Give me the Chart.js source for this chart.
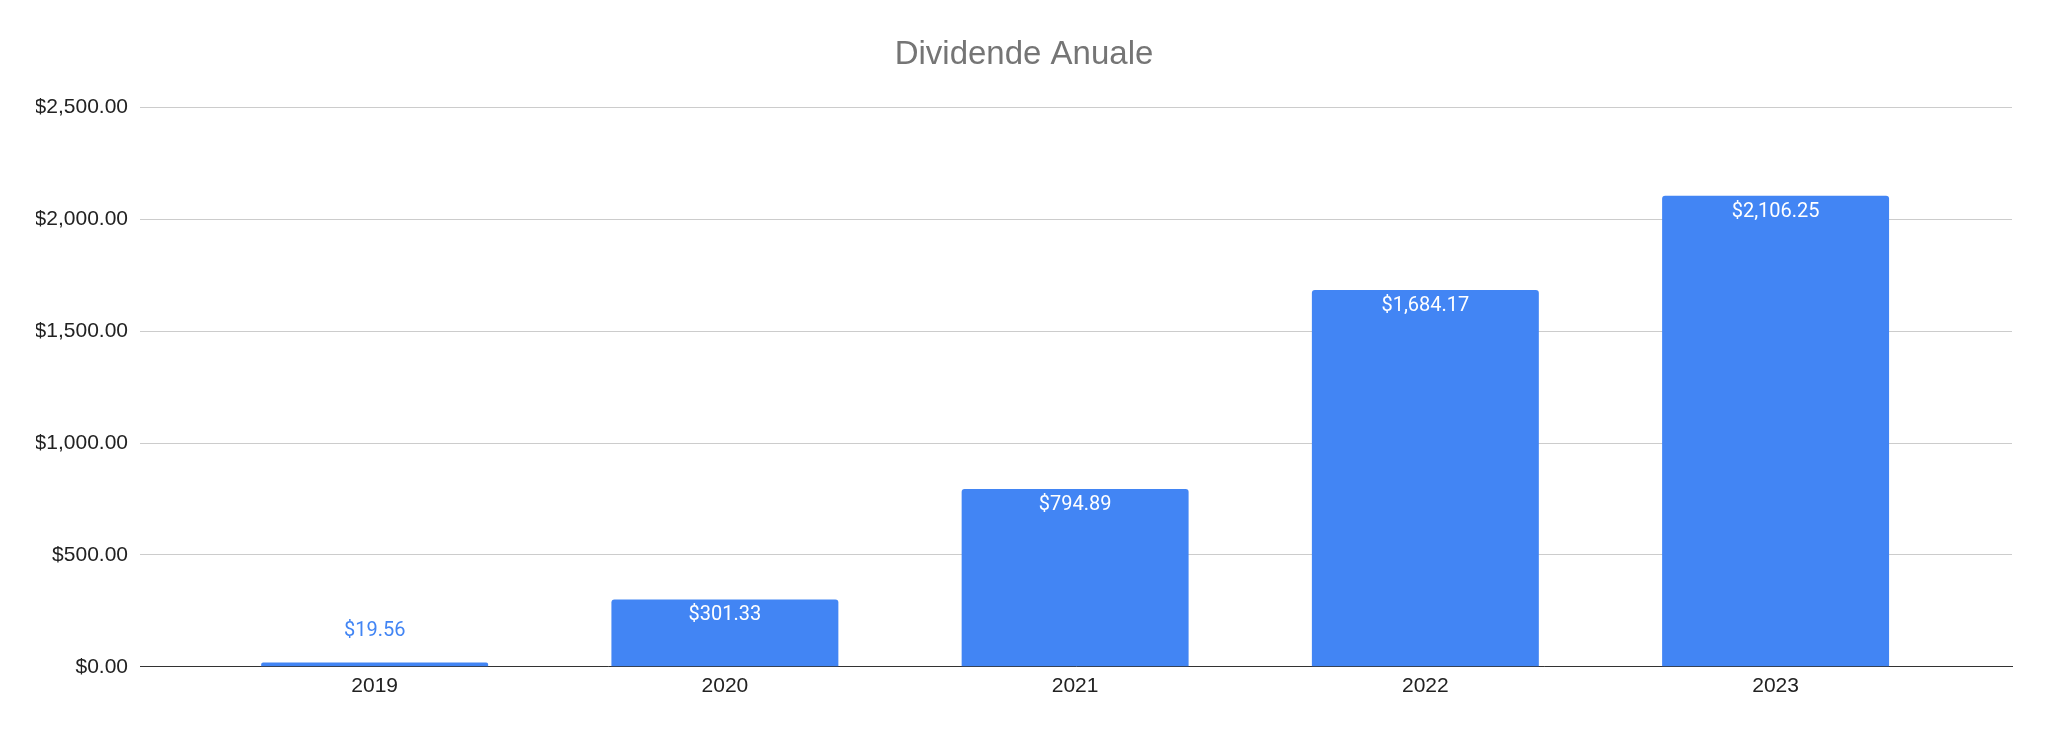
<!DOCTYPE html>
<html lang="ro">
<head>
  <meta charset="UTF-8" />
  <title>Dividende Anuale</title>
  <script src="https://cdn.jsdelivr.net/npm/chart.js"></script>
  <style>
    html, body { margin: 0; padding: 0; background: #fff; }
    #wrap { width: 2048px; height: 734px; }
  </style>
</head>
<body>
  <div id="wrap"><canvas id="barChart" width="2048" height="734"></canvas></div>
<script>
  // data
  const years = ["2019", "2020", "2021", "2022", "2023"];
  const dividends = [19.56, 301.33, 794.89, 1684.17, 2106.25];
  const yTicks = [0, 500, 1000, 1500, 2000, 2500];

  const money = v => "$" + v.toLocaleString("en-US", { minimumFractionDigits: 2, maximumFractionDigits: 2 });

  // value labels: white inside the bar top, blue above when the bar is too short
  const barLabels = {
    id: "barLabels",
    afterDatasetsDraw(chart) {
      const ctx = chart.ctx;
      const meta = chart.getDatasetMeta(0);
      ctx.save();
      ctx.font = "20px Roboto";
      ctx.textAlign = "center";
      ctx.textBaseline = "middle";
      meta.data.forEach((bar, i) => {
        const h = bar.base - bar.y;
        if (h > 40) {
          ctx.fillStyle = "#ffffff";
          ctx.fillText(money(dividends[i]), bar.x, bar.y + 16);
        } else {
          ctx.fillStyle = "#4285F4";
          ctx.fillText(money(dividends[i]), bar.x, bar.y - 31);
        }
      });
      ctx.restore();
    }
  };

  const ctx = document.getElementById("barChart").getContext("2d");
  new Chart(ctx, {
    type: "bar",
    data: {
      datasets: [{
        label: "Dividende",
        data: dividends.map((v, i) => ({ x: i, y: v })),
        backgroundColor: "#4285F4",
        borderRadius: 3,
        borderSkipped: "start",
        categoryPercentage: 1,
        barPercentage: 0.648,
      }],
    },
    options: {
      responsive: false,
      animation: false,
      devicePixelRatio: 1,
      layout: { padding: { left: 36, right: 36, top: 0, bottom: 28 } },
      plugins: {
        legend: { display: false },
        tooltip: { enabled: false },
        title: {
          display: true,
          text: "Dividende Anuale",
          color: "#757575",
          font: { family: "'Liberation Sans', Arial, sans-serif", size: 33, weight: "normal", lineHeight: 1.2 },
          padding: { top: 35, bottom: 33 },
        },
      },
      scales: {
        x: {
          type: "linear",
          offset: false,
          min: -0.67,
          max: 4.675,
          afterBuildTicks: scale => { scale.ticks = years.map((y, i) => ({ value: i })); },
          grid: { display: false, drawTicks: false, offset: false },
          border: { display: true, color: "#333333", width: 1 },
          ticks: {
            callback: value => years[value],
            color: "#222222",
            padding: 7,
            maxRotation: 0,
            font: { family: "'Liberation Sans', Arial, sans-serif", size: 21 },
          },
        },
        y: {
          min: 0,
          max: 2500,
          afterBuildTicks: scale => { scale.ticks = yTicks.map(v => ({ value: v })); },
          afterFit: scale => { scale.width = 104; },
          grid: { color: "#cccccc", lineWidth: 1, drawTicks: false },
          border: { display: false },
          ticks: {
            callback: value => money(value),
            color: "#222222",
            padding: 12,
            font: { family: "'Liberation Sans', Arial, sans-serif", size: 21 },
          },
        },
      },
    },
    plugins: [barLabels],
  });
</script>
</body>
</html>
